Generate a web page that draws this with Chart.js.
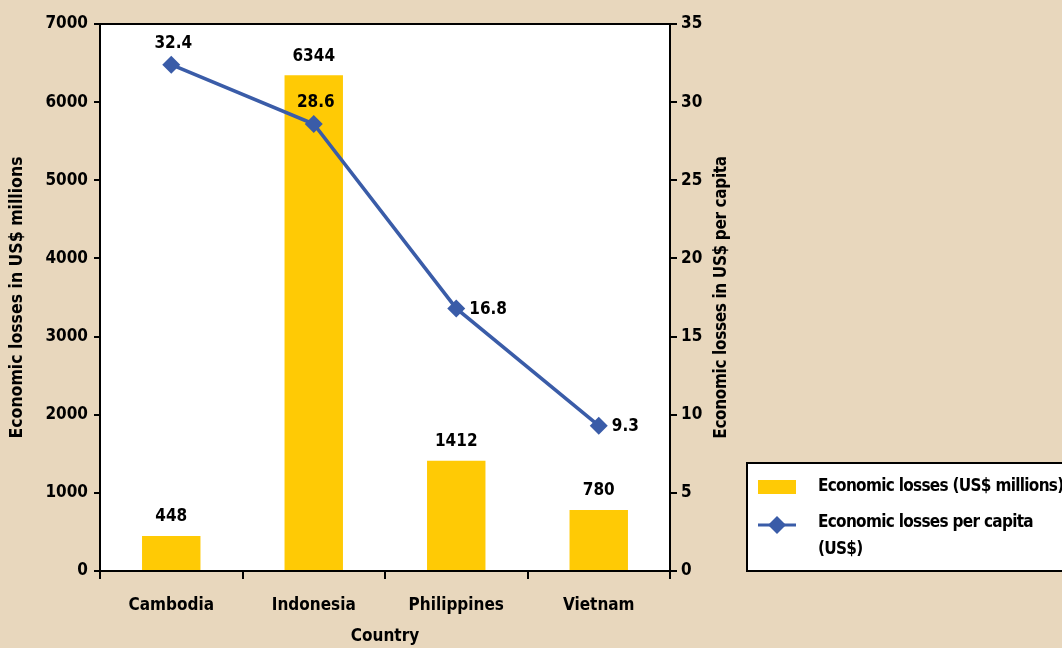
<!DOCTYPE html>
<html>
<head>
<meta charset="utf-8">
<script src="https://cdn.jsdelivr.net/npm/chart.js@4/dist/chart.umd.min.js"></script>
<style>
  html, body { margin: 0; padding: 0; background: #e8d7bd; }
  #wrap { width: 1062px; height: 648px; position: relative; }
</style>
</head>
<body>
<div id="wrap"><canvas id="chart" width="1062" height="648"></canvas></div>
<script>
const countries   = ['Cambodia', 'Indonesia', 'Philippines', 'Vietnam'];
const lossesMill  = [448, 6344, 1412, 780];
const lossesCap   = [32.4, 28.6, 16.8, 9.3];
const leftTicks   = [0, 1000, 2000, 3000, 4000, 5000, 6000, 7000];
const rightTicks  = [0, 5, 10, 15, 20, 25, 30, 35];
const capLabelPos = ['top', 'top', 'right', 'right'];

const FONT = "'Liberation Sans Narrow', 'DejaVu Sans Condensed', sans-serif";
const GOLD = '#ffca05';
const BLUE = '#3a5ca8';
const BG   = '#e8d7bd';

// Achtergrond, witte plotruimte en kader.
const achtergrond = {
  id: 'achtergrond',
  beforeDraw(c) {
    const { ctx, chartArea: a } = c;
    ctx.save();
    ctx.fillStyle = BG;
    ctx.fillRect(0, 0, c.width, c.height);
    ctx.fillStyle = '#fff';
    ctx.fillRect(a.left, a.top, a.right - a.left, a.bottom - a.top);
    ctx.restore();
  },
  afterDatasetsDraw(c) {
    const { ctx, chartArea: a } = c;
    ctx.save();
    ctx.strokeStyle = '#000'; ctx.lineWidth = 2;
    ctx.strokeRect(a.left, a.top, a.right - a.left, a.bottom - a.top);
    ctx.restore();
  }
};

// Waardelabels bij staven en punten, plus rechter astitel (leest van onder naar boven).
const labels = {
  id: 'labels',
  afterDraw(c) {
    const ctx = c.ctx;
    ctx.save();
    ctx.font = 'bold 17px ' + FONT;
    ctx.fillStyle = '#000';
    ctx.textBaseline = 'middle';
    c.getDatasetMeta(0).data.forEach((bar, i) => {
      ctx.textAlign = 'center';
      ctx.fillText(String(lossesMill[i]), bar.x, bar.y - 19);
    });
    c.getDatasetMeta(1).data.forEach((pt, i) => {
      if (capLabelPos[i] === 'top') {
        ctx.textAlign = 'center';
        ctx.fillText(lossesCap[i].toFixed(1), pt.x + 2, pt.y - 21);
      } else {
        ctx.textAlign = 'left';
        ctx.fillText(lossesCap[i].toFixed(1), pt.x + 13, pt.y + 1);
      }
    });

    const a = c.chartArea;
    ctx.translate(c.scales.y1.right - 18, (a.top + a.bottom) / 2);
    ctx.rotate(-Math.PI / 2);
    ctx.letterSpacing = '-0.35px';
    ctx.textAlign = 'center';
    ctx.fillText('Economic losses in US$ per capita', 0, 0);
    ctx.restore();
  }
};

// Legenda rechtsonder in een kader.
const legenda = {
  id: 'legenda',
  afterDraw(c) {
    const ctx = c.ctx;
    ctx.save();
    ctx.fillStyle = '#fff';
    ctx.fillRect(747, 463, 330, 108);
    ctx.strokeStyle = '#000'; ctx.lineWidth = 2;
    ctx.strokeRect(747, 463, 330, 108);

    ctx.fillStyle = GOLD;
    ctx.fillRect(758, 480, 38, 14);

    ctx.strokeStyle = BLUE; ctx.lineWidth = 3;
    ctx.beginPath(); ctx.moveTo(758, 525); ctx.lineTo(796, 525); ctx.stroke();
    ctx.fillStyle = BLUE;
    ctx.beginPath();
    ctx.moveTo(777 - 9, 525); ctx.lineTo(777, 516); ctx.lineTo(777 + 9, 525); ctx.lineTo(777, 534);
    ctx.closePath(); ctx.fill();

    ctx.fillStyle = '#000';
    ctx.font = 'bold 17px ' + FONT;
    ctx.letterSpacing = '-0.7px';
    ctx.textAlign = 'left'; ctx.textBaseline = 'middle';
    ctx.fillText(c.data.datasets[0].label, 818, 487);
    ctx.fillText('Economic losses per capita', 818, 523);
    ctx.fillText('(US$)', 818, 550);
    ctx.restore();
  }
};

const tickFont = { family: FONT, size: 17, weight: 'bold' };

new Chart(document.getElementById('chart'), {
  type: 'bar',
  plugins: [achtergrond, labels, legenda],
  data: {
    labels: countries,
    datasets: [
      { label: 'Economic losses (US$ millions)', data: lossesMill, yAxisID: 'y',
        backgroundColor: GOLD, barPercentage: 0.82, categoryPercentage: 0.5, order: 1 },
      { type: 'line', label: 'Economic losses per capita (US$)', data: lossesCap, yAxisID: 'y1',
        borderColor: BLUE, backgroundColor: BLUE, borderWidth: 3.5, pointStyle: 'rectRot',
        pointRadius: 9, pointHoverRadius: 9, pointBorderWidth: 0, tension: 0, order: 0 }
    ]
  },
  options: {
    responsive: false, animation: false, devicePixelRatio: 1,
    layout: { padding: { top: 24, right: 322, left: 0, bottom: 0 } },
    plugins: { legend: { display: false }, tooltip: { enabled: false } },
    scales: {
      x: {
        grid: { display: true, drawOnChartArea: false, color: '#000', lineWidth: 2, tickLength: 8, offset: true },
        border: { display: false },
        ticks: { color: '#000', font: tickFont, padding: 16, maxRotation: 0 },
        title: { display: true, text: 'Country', color: '#000', font: tickFont, padding: { top: 0, bottom: 1 } },
        afterFit(s) { s.height = 77; }
      },
      y: {
        position: 'left', min: 0, max: 7000,
        afterBuildTicks(s) { s.ticks = leftTicks.map(v => ({ value: v })); },
        grid: { drawOnChartArea: false, color: '#000', lineWidth: 2, tickLength: 6 },
        border: { display: false },
        ticks: { color: '#000', font: tickFont, padding: 6, callback: v => String(v) },
        title: { display: true, text: 'Economic losses in US$ millions', color: '#000',
                 font: { family: FONT, size: 17.5, weight: 'bold' }, padding: { top: 7, bottom: 0 } },
        afterFit(s) { s.width = 100; }
      },
      y1: {
        position: 'right', min: 0, max: 35,
        afterBuildTicks(s) { s.ticks = rightTicks.map(v => ({ value: v })); },
        grid: { drawOnChartArea: false, color: '#000', lineWidth: 2, tickLength: 7 },
        border: { display: false },
        ticks: { color: '#000', font: tickFont, padding: 4, callback: v => String(v) },
        afterFit(s) { s.width = 70; }
      }
    }
  }
});
</script>
</body>
</html>
